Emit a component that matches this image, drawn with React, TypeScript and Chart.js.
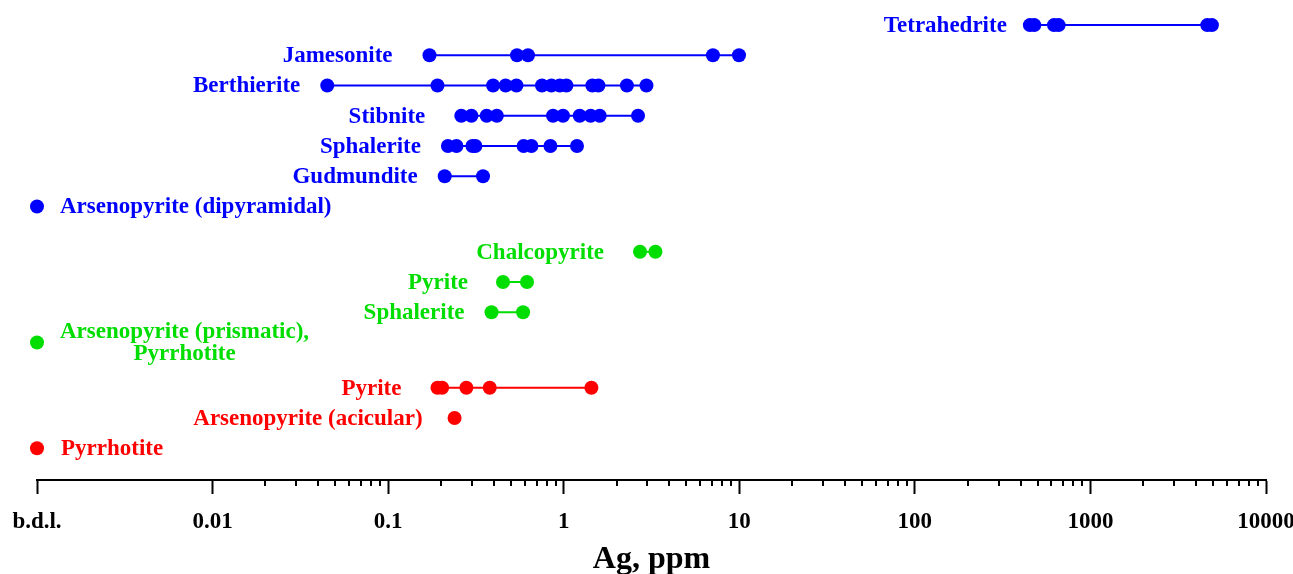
import React, { useEffect, useRef } from 'react';
import { Chart, registerables } from 'chart.js';

Chart.register(...registerables);

// ---------- data ----------
const xTickValues = [0.001, 0.01, 0.1, 1, 10, 100, 1000, 10000];
const xTickLabels = ['b.d.l.', '0.01', '0.1', '1', '10', '100', '1000', '10000'];
const minorMultipliers = [2, 3, 4, 5, 6, 7, 8, 9];

const rowLabels = [
  'Tetrahedrite',
  'Jamesonite',
  'Berthierite',
  'Stibnite',
  'Sphalerite',
  'Gudmundite',
  'Arsenopyrite (dipyramidal)',
  'Chalcopyrite',
  'Pyrite',
  'Sphalerite',
  'Arsenopyrite (prismatic),\nPyrrhotite',
  'Pyrite',
  'Arsenopyrite (acicular)',
  'Pyrrhotite',
];

// vertical slot of each row (groups separated by an empty half row)
const rowSlots = [0, 1, 2, 3, 4, 5, 6, 7.5, 8.5, 9.5, 10.5, 12, 13, 14];

const BDL = 0.001;
const tetrahedrite = [452, 479, 620, 659, 4630, 4920];
const jamesonite = [0.172, 0.542, 0.626, 7.08, 9.96];
const berthierite = [0.045, 0.191, 0.396, 0.467, 0.538, 0.752, 0.851, 0.949, 1.036, 1.456, 1.576, 2.29, 2.96];
const stibnite = [0.261, 0.298, 0.364, 0.416, 0.869, 0.991, 1.233, 1.425, 1.603, 2.65];
const sphaleriteStage1 = [0.219, 0.245, 0.302, 0.314, 0.591, 0.655, 0.84, 1.19];
const gudmundite = [0.21, 0.347];
const arsenopyriteDipyramidal = [BDL];
const chalcopyrite = [2.72, 3.33];
const pyriteStage2 = [0.451, 0.618];
const sphaleriteStage2 = [0.388, 0.587];
const arsenopyritePrismatic = [BDL];
const pyriteStage3 = [0.191, 0.203, 0.279, 0.379, 1.438];
const arsenopyriteAcicular = [0.239];
const pyrrhotite = [BDL];

const rowValues = [
  tetrahedrite, jamesonite, berthierite, stibnite, sphaleriteStage1, gudmundite,
  arsenopyriteDipyramidal, chalcopyrite, pyriteStage2, sphaleriteStage2,
  arsenopyritePrismatic, pyriteStage3, arsenopyriteAcicular, pyrrhotite,
];

// ---------- style ----------
const BLUE = '#0000ff';
const GREEN = '#00dd00';
const RED = '#ff0000';
const rowColors = [BLUE, BLUE, BLUE, BLUE, BLUE, BLUE, BLUE, GREEN, GREEN, GREEN, GREEN, RED, RED, RED];
// 'before' = label to the left of the first point, 'after' = label to the right
const labelSide = ['before', 'before', 'before', 'before', 'before', 'before', 'after', 'before', 'before', 'before', 'after', 'before', 'before', 'after'];
const labelGap = [23, 37, 27, 36, 27, 27, 23, 36, 35, 27, 23, 36, 32, 24];

const FONT = '"Liberation Serif", "Times New Roman", serif';
const LABEL_SIZE = 23;
const LABEL_LINE = 22;
const X_AXIS_HEIGHT = 94;
const MINOR_TICK_LEN = 6;

const rowLabelPlugin = {
  id: 'rowLabels',
  afterDatasetsDraw(chart: any) {
    const ctx = chart.ctx;
    const xs = chart.scales.x;
    const ys = chart.scales.y;
    ctx.save();
    ctx.font = `bold ${LABEL_SIZE}px ${FONT}`;
    ctx.textBaseline = 'middle';
    rowLabels.forEach((label, i) => {
      const vals = rowValues[i];
      const y = ys.getPixelForValue(rowSlots[i]) + 1;
      const lines = label.split('\n');
      ctx.fillStyle = rowColors[i];
      if (labelSide[i] === 'before') {
        const x = xs.getPixelForValue(Math.min(...vals)) - labelGap[i];
        ctx.textAlign = 'right';
        lines.forEach((l, j) => ctx.fillText(l, x, y + (j - (lines.length - 1) / 2) * LABEL_LINE));
      } else {
        const x0 = xs.getPixelForValue(Math.max(...vals)) + labelGap[i];
        const w = Math.max(...lines.map((l) => ctx.measureText(l).width));
        ctx.textAlign = 'center';
        lines.forEach((l, j) => ctx.fillText(l, x0 + w / 2, y + (j - (lines.length - 1) / 2) * LABEL_LINE));
      }
    });
    ctx.restore();
  },
};

const minorTickPlugin = {
  id: 'minorTicks',
  afterDraw(chart: any) {
    const ctx = chart.ctx;
    const xs = chart.scales.x;
    const yTop = chart.chartArea.bottom;
    ctx.save();
    ctx.strokeStyle = '#000';
    ctx.lineWidth = 2;
    for (let d = 1; d < xTickValues.length - 1; d++) {
      minorMultipliers.forEach((m) => {
        const px = Math.round(xs.getPixelForValue(xTickValues[d] * m));
        ctx.beginPath();
        ctx.moveTo(px, yTop);
        ctx.lineTo(px, yTop + MINOR_TICK_LEN);
        ctx.stroke();
      });
    }
    ctx.restore();
  },
};

export default function App() {
  const canvasRef = useRef<HTMLCanvasElement | null>(null);

  useEffect(() => {
    if (!canvasRef.current) return;
    const datasets = rowValues.map((vals, i) => ({
      label: rowLabels[i],
      data: vals.map((v) => ({ x: v, y: rowSlots[i] })),
      showLine: true,
      borderColor: rowColors[i],
      backgroundColor: rowColors[i],
      borderWidth: 2,
      pointRadius: 7,
      pointBorderWidth: 0,
      pointHoverRadius: 7,
      clip: false as any,
    }));

    const chart = new Chart(canvasRef.current, {
      type: 'scatter',
      data: { datasets },
      plugins: [rowLabelPlugin, minorTickPlugin],
      options: {
        animation: false,
        responsive: false,
        devicePixelRatio: 1,
        layout: { autoPadding: false, padding: { left: 37, right: 27, top: 0, bottom: 0 } },
        plugins: {
          legend: { display: false },
          tooltip: { enabled: false },
        },
        scales: {
          x: {
            type: 'logarithmic',
            position: 'bottom',
            min: 0.001,
            max: 10000,
            afterBuildTicks: (scale: any) => {
              scale.ticks = xTickValues.map((v) => ({ value: v, major: false }));
            },
            afterFit: (scale: any) => {
              scale.height = X_AXIS_HEIGHT;
              scale.paddingLeft = 0;
              scale.paddingRight = 0;
            },
            ticks: {
              autoSkip: false,
              maxRotation: 0,
              minRotation: 0,
              padding: 14,
              color: '#000',
              font: { family: FONT, size: 23, weight: 'bold' },
              callback: (_v: any, index: number) => xTickLabels[index],
            },
            grid: {
              display: true,
              drawOnChartArea: false,
              drawTicks: true,
              tickLength: 14,
              tickWidth: 2,
              tickColor: '#000',
            },
            border: { display: true, color: '#000', width: 2 },
            title: {
              display: true,
              text: 'Ag, ppm',
              color: '#000',
              font: { family: FONT, size: 32, weight: 'bold', lineHeight: 0.875 },
              padding: { top: 0, bottom: 0 },
            },
          },
          y: {
            type: 'linear',
            reverse: true,
            min: -0.83,
            max: 15.05,
            display: false,
          },
        },
      } as any,
    });
    return () => chart.destroy();
  }, []);

  return (
    <div style={{ position: 'fixed', left: 0, top: 0, width: 1293, height: 574, background: '#fff' }}>
      <canvas ref={canvasRef} width={1293} height={574} style={{ display: 'block' }} />
    </div>
  );
}
